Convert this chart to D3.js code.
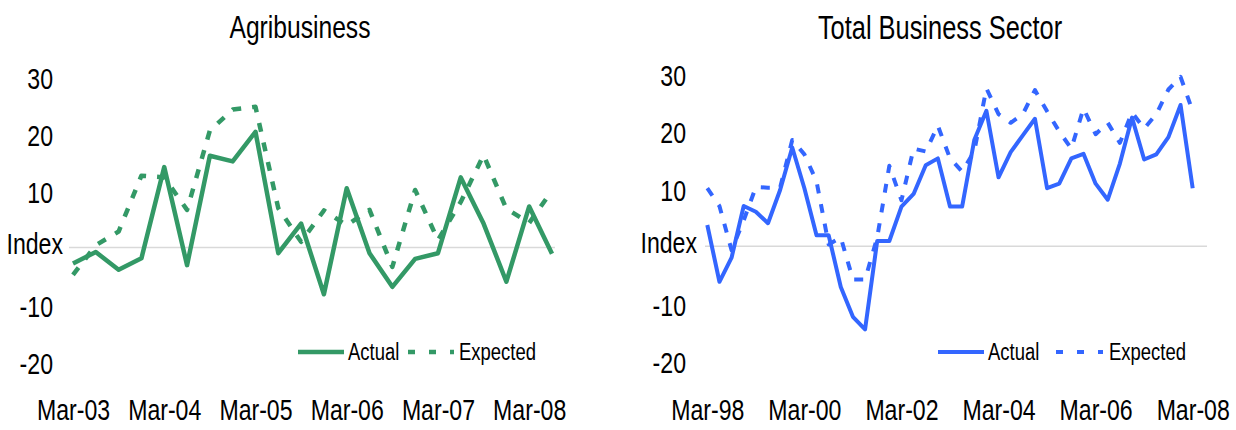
<!DOCTYPE html>
<html>
<head>
<meta charset="utf-8">
<script src="https://cdn.jsdelivr.net/npm/d3@7"></script>
<style>
  body { margin: 0; background: #ffffff; }
  svg text { font-family: "Liberation Sans", Arial, sans-serif; fill: #000; }
</style>
</head>
<body>
<svg id="chart" width="1236" height="430"></svg>
<script>
// Value-axis ticks (zero is labelled "Index" instead of a number)
const yTicks = [-20, -10, 10, 20, 30];
const seriesNames = ["Actual", "Expected"];

// Agribusiness, quarterly from Mar-03 to Jun-08
const agriTitle = "Agribusiness";
const agriTickLabels = ["Mar-03", "Mar-04", "Mar-05", "Mar-06", "Mar-07", "Mar-08"];
const agriActual = [-2.8, -0.8, -3.9, -1.9, 14.1, -3.1, 16.1, 15.1, 20.3, -1.0, 4.2,
                    -8.2, 10.4, -1.0, -6.9, -2.0, -1.0, 12.3, 4.2, -6.0, 7.2, -1.1];
const agriExpected = [-4.8, 0.4, 2.8, 12.6, 12.3, 6.6, 20.5, 24.2, 24.7, 6.9, 1.0,
                      6.5, 3.9, 6.6, -3.4, 10.1, 1.3, 8.0, 16.2, 6.8, 4.3, 10.0];

// Total business sector, quarterly from Mar-98 to Mar-08
const totalTitle = "Total Business Sector";
const totalTickLabels = ["Mar-98", "Mar-00", "Mar-02", "Mar-04", "Mar-06", "Mar-08"];
const totalActual = [3.7, -6.2, -2.0, 7.0, 6.0, 4.0, 9.8, 17.2, 10.1, 1.9, 1.9,
                     -7.1, -12.3, -14.5, 0.9, 0.9, 6.9, 9.1, 14.1, 15.3, 6.9,
                     6.9, 18.5, 23.6, 12.0, 16.4, 19.3, 22.2, 10.1, 10.9, 15.3,
                     16.1, 10.9, 8.1, 14.4, 22.4, 15.1, 16.0, 19.0, 24.6, 10.1];
const totalExpected = [10.1, 7.0, -0.7, 4.5, 10.3, 10.2, 10.2, 18.5, 16.0, 11.3, 0.3,
                       1.5, -5.8, -5.8, 1.5, 14.0, 8.0, 17.0, 16.5, 21.0, 15.3,
                       13.0, 16.5, 27.5, 23.0, 21.5, 23.0, 27.2, 23.5, 20.0, 17.0,
                       24.0, 19.5, 21.5, 18.0, 23.3, 20.5, 23.0, 27.3, 29.5, 23.5];

// Horizontal squeeze that turns the regular sans face into a narrow one
const NARROW = 0.77;

// Panel layout
const panels = [
  {
    title: agriTitle, labels: agriTickLabels, actual: agriActual, expected: agriExpected,
    color: "#339966", width: 4.5, labelEvery: 4,
    xFirst: 73, xLast: 552, gridLeft: 69, gridRight: 555,
    yBottom: 361.5, yTop: 76.5, titleX: 300, titleSize: 32,
    tickRight: 53, indexRight: 63, indexDy: -4,
    legendX: 298, legendY: 352, legendDash: [110, 156], legendText2: 161
  },
  {
    title: totalTitle, labels: totalTickLabels, actual: totalActual, expected: totalExpected,
    color: "#3366ff", width: 4, labelEvery: 8,
    xFirst: 707.3, xLast: 1192.7, gridLeft: 705, gridRight: 1207,
    yBottom: 361, yTop: 74, titleX: 940, titleSize: 33,
    tickRight: 686, indexRight: 697, indexDy: -3,
    legendX: 938, legendY: 352, legendDash: [118, 165], legendText2: 171
  }
];

const svg = d3.select("#chart");

// Places a narrow text at (x, y)
function narrowText(parent, x, y, str, size, anchor) {
  return parent.append("text")
    .attr("transform", `translate(${x},${y}) scale(${NARROW},1)`)
    .attr("text-anchor", anchor)
    .attr("dominant-baseline", "central")
    .style("font-size", size + "px")
    .text(str);
}

panels.forEach(p => {
  const g = svg.append("g");
  const n = p.actual.length;
  const x = d3.scaleLinear().domain([0, n - 1]).range([p.xFirst, p.xLast]);
  const y = d3.scaleLinear().domain([-20, 30]).range([p.yBottom, p.yTop]);

  // Title
  narrowText(g, p.titleX, 27, p.title, p.titleSize, "middle");

  // Zero gridline
  g.append("line")
    .attr("x1", p.gridLeft).attr("x2", p.gridRight)
    .attr("y1", y(0)).attr("y2", y(0))
    .attr("stroke", "#d9d9d9").attr("stroke-width", 1.5);

  // Value axis labels
  const yAxis = d3.axisLeft(y).tickValues(yTicks).tickSize(0).tickPadding(0)
    .tickFormat(d => String(d));
  const ya = g.append("g").attr("transform", `translate(${p.tickRight},0)`).call(yAxis);
  ya.select(".domain").remove();
  ya.selectAll("text")
    .attr("dy", null).attr("x", 0).attr("y", 0)
    .attr("transform", `translate(0,1.5) scale(${NARROW},1)`)
    .attr("dominant-baseline", "central")
    .style("font-size", "30px").style("font-family", null);

  narrowText(g, p.indexRight, y(0) + p.indexDy, "Index", 30, "end");

  // Category labels along the bottom
  const tickIdx = p.labels.map((_, i) => i * p.labelEvery);
  const xAxis = d3.axisBottom(x).tickValues(tickIdx).tickSize(0).tickPadding(0)
    .tickFormat((d, i) => p.labels[i]);
  const xa = g.append("g").attr("transform", "translate(0,410)").call(xAxis);
  xa.select(".domain").remove();
  xa.selectAll("text")
    .attr("dy", null).attr("y", 0)
    .attr("transform", `scale(${NARROW},1)`)
    .attr("dominant-baseline", "central")
    .style("font-size", "30px").style("font-family", null);

  // Series lines
  const line = d3.line().x((d, i) => x(i)).y(d => y(d)).curve(d3.curveLinear);
  g.append("path")
    .datum(p.expected)
    .attr("d", line)
    .attr("fill", "none").attr("stroke", p.color).attr("stroke-width", p.width)
    .attr("stroke-dasharray", "9,11").attr("stroke-linejoin", "round");
  g.append("path")
    .datum(p.actual)
    .attr("d", line)
    .attr("fill", "none").attr("stroke", p.color).attr("stroke-width", p.width)
    .attr("stroke-linejoin", "round");

  // Legend
  const lg = g.append("g").attr("transform", `translate(${p.legendX},${p.legendY})`);
  lg.append("line").attr("x1", 0).attr("x2", 46).attr("y1", 0).attr("y2", 0)
    .attr("stroke", p.color).attr("stroke-width", p.width);
  narrowText(lg, 50, 0, seriesNames[0], 24, "start");
  lg.append("line").attr("x1", p.legendDash[0]).attr("x2", p.legendDash[1])
    .attr("y1", 0).attr("y2", 0)
    .attr("stroke", p.color).attr("stroke-width", p.width)
    .attr("stroke-dasharray", "7,14");
  narrowText(lg, p.legendText2, 0, seriesNames[1], 24, "start");
});
</script>
</body>
</html>
